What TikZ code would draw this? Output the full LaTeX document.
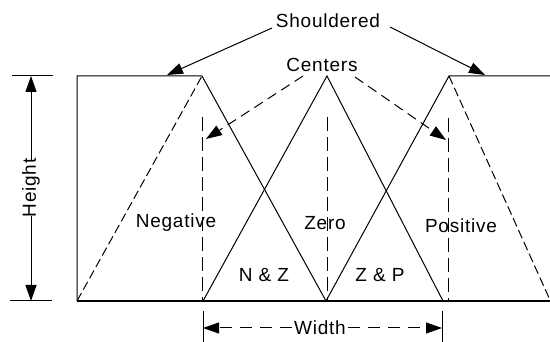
\documentclass[tikz,border=0pt]{standalone}
\usepackage{fontspec}
\setmainfont{Liberation Sans}[LetterSpace=4]
\usetikzlibrary{arrows.meta}
\begin{document}
\begin{tikzpicture}[x=1pt,y=-1pt,
  lbl/.style={font=\fontsize{19}{19}\selectfont, inner sep=0pt, anchor=base},
  ln/.style={line width=1pt, line cap=butt},
  heavy/.style={line width=1.8pt},
  tipend/.style={-{Triangle[length=16pt,width=11pt]}},
  longdash/.style={ln, dash pattern=on 14pt off 6pt},
  shortdash/.style={ln, dash pattern=on 9pt off 4pt},
  ctrdash/.style={ln, dash pattern=on 10pt off 6pt},
  widdash/.style={ln, dash pattern=on 12pt off 8pt}]
\useasboundingbox (0,0) rectangle (550,342);
% key points
\coordinate (A) at (77,301);
\coordinate (B) at (77,76);
\coordinate (S1) at (202,76);
\coordinate (Zb) at (326,301);
\coordinate (Zp) at (327,76);
\coordinate (Lb) at (203,301);
\coordinate (Rb) at (443,301);
\coordinate (S2) at (449,76);
\coordinate (Etop) at (550,76);
\coordinate (Ebot) at (550,301);
\coordinate (Edash) at (550,300);
% vertical centre lines
\coordinate (V1t) at (202,117); \coordinate (V1b) at (202,301);
\coordinate (V2t) at (327,117); \coordinate (V2b) at (327,301);
\coordinate (V3t) at (448,118); \coordinate (V3b) at (448,301);
% membership functions
\draw[ln] (A) -- (B) -- (S1) -- (Zb);
\draw[ln] (Lb) -- (Zp) -- (Rb);
\draw[ln] (Zb) -- (S2) -- (Etop);
\draw[shortdash] (A) -- (S1);
\draw[shortdash] (S2) -- (Edash);
\draw[longdash] (V1t) -- (V1b);
\draw[longdash] (V2t) -- (V2b);
\draw[longdash] (V3t) -- (V3b);
\draw[heavy] (A) -- (Ebot);
% labels
\node[lbl] (shd) at (328,28) {Shouldered};
\node[lbl] (ctr) at (322,72) {Centers};
\node[lbl] (neg) at (176,228) {Negative};
\node[lbl] (zer) at (325,230) {Zero};
\node[lbl] (pos) at (461,233) {Positive};
\node[lbl] (nz) at (264,282) {N \& Z};
\node[lbl] (zp) at (380,282) {Z \& P};
% shouldered arrows
\coordinate (sh1s) at (272,28); \coordinate (sh1e) at (167,75);
\coordinate (sh2s) at (390,27); \coordinate (sh2e) at (485,75);
\draw[ln, tipend] (sh1s) -- (sh1e);
\draw[ln, tipend] (sh2s) -- (sh2e);
% centers arrows
\coordinate (c1s) at (303,76); \coordinate (c1e) at (206,139);
\coordinate (c2s) at (355,77); \coordinate (c2e) at (446,140);
\draw[ctrdash, tipend] (c1s) -- (c1e);
\draw[ctrdash, tipend] (c2s) -- (c2e);
% height dimension
\coordinate (ht1) at (12,76); \coordinate (ht2) at (53,76);
\coordinate (hb1) at (10,301); \coordinate (hb2) at (52,301);
\draw[ln] (ht1) -- (ht2);
\draw[ln] (hb1) -- (hb2);
\node[font=\fontsize{19}{19}\selectfont, inner sep=0pt, rotate=90] (hgt) at (31,188) {Height};
\coordinate (hu) at (31,160); \coordinate (hd) at (31,216);
\coordinate (htop) at (31,76); \coordinate (hbot) at (31,301);
\draw[ln, tipend] (hu) -- (htop);
\draw[ln, tipend] (hd) -- (hbot);
% width dimension
\coordinate (wt1a) at (203,311); \coordinate (wt1b) at (203,342);
\coordinate (wt2a) at (442,311); \coordinate (wt2b) at (442,342);
\draw[ln] (wt1a) -- (wt1b);
\draw[ln] (wt2a) -- (wt2b);
\node[font=\fontsize{19}{19}\selectfont, inner sep=2pt] (wid) at (320,328) {Width};
\coordinate (wl) at (203,328); \coordinate (wr) at (442,328);
\draw[widdash, tipend] (wid.west) -- (wl);
\draw[widdash, tipend] (wid.east) -- (wr);
\end{tikzpicture}
\end{document}
